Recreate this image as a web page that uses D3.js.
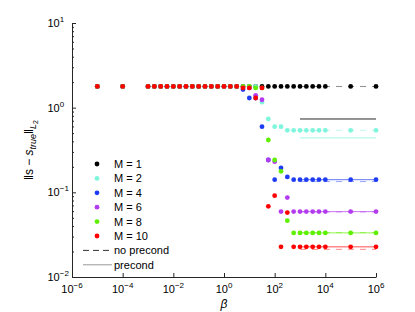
<!DOCTYPE html>
<html>
<head>
	<style>
	body {
		margin: 0;
	}
	svg {
		font-family: "Liberation Sans", Arial, sans-serif;
	}
	</style>
</head>
<body>
	<script src="https://d3js.org/d3.v7.min.js"></script>
	<script>
	// beta grid, as exponents of ten
	var logBeta = [-5, -4, -3, -2.75, -2.5, -2.25, -2, -1.75, -1.5, -1.25, -1, -0.75, -0.5, -0.25,
		0, 0.25, 0.5, 0.75, 1, 1.25, 1.5, 1.75, 2, 2.25, 2.5, 2.75, 3, 3.25, 3.5, 3.75, 4, 5, 6];

	var labels = ["M = 1", "M = 2", "M = 4", "M = 6", "M = 8", "M = 10"];
	var colors = ["#000000", "#7ff5dc", "#1f3cf5", "#b43cf0", "#5ef000", "#ff0000"];

	var errM1 = [1.78, 1.78, 1.78, 1.78, 1.78, 1.78, 1.78, 1.78, 1.78, 1.78, 1.78, 1.78, 1.78, 1.78,
		1.78, 1.78, 1.78, 1.78, 1.78, 1.78, 1.78, 1.78, 1.78, 1.78, 1.78, 1.78, 1.78, 1.78, 1.78, 1.78, 1.78, 1.78, 1.78];
	var errM2 = [1.78, 1.78, 1.78, 1.78, 1.78, 1.78, 1.78, 1.78, 1.78, 1.78, 1.78, 1.78, 1.78, 1.78,
		1.78, 1.78, 1.78, 1.78, 1.78, 1.78, 1.16, 0.735, 0.597, 0.597, 0.54, 0.54, 0.54, 0.54, 0.54, 0.54, 0.54, 0.54, 0.54];
	var errM4 = [1.78, 1.78, 1.78, 1.78, 1.78, 1.78, 1.78, 1.78, 1.78, 1.78, 1.78, 1.78, 1.78, 1.78,
		1.78, 1.78, 1.78, 1.64, 1.30, 1.30, 0.597, 0.241, 0.141, 0.194, 0.152, 0.141, 0.141, 0.141, 0.141, 0.141, 0.141, 0.141, 0.141];
	var errM6 = [1.78, 1.78, 1.78, 1.78, 1.78, 1.78, 1.78, 1.78, 1.78, 1.78, 1.78, 1.78, 1.78, 1.78,
		1.78, 1.78, 1.78, 1.78, 1.71, 1.40, 1.24, 0.241, 0.230, 0.0592, 0.0866, 0.0592, 0.0592, 0.0592, 0.0592, 0.0592, 0.0592, 0.0592, 0.0592];
	var errM8 = [1.78, 1.78, 1.78, 1.78, 1.78, 1.78, 1.78, 1.78, 1.78, 1.78, 1.78, 1.78, 1.78, 1.78,
		1.78, 1.78, 1.78, 1.78, 1.78, 1.71, 1.71, 0.415, 0.241, 0.177, 0.0463, 0.0332, 0.0332, 0.0332, 0.0332, 0.0332, 0.0332, 0.0332, 0.0332];
	var errM10 = [1.78, 1.78, 1.78, 1.78, 1.78, 1.78, 1.78, 1.78, 1.78, 1.78, 1.78, 1.78, 1.78, 1.78,
		1.78, 1.78, 1.78, 1.71, 1.71, 1.30, 1.71, 0.0684, 0.0914, 0.0227, 0.0576, 0.0227, 0.0227, 0.0227, 0.0227, 0.0227, 0.0227, 0.0227, 0.0227];

	// reference levels drawn from beta = 1e3 to 1e6
	var lineBeta = [1e3, 1e6];
	var noPrecond = [1.78, 0.54, 0.134, 0.0585, 0.0335, 0.0212];
	var precond = [0.735, 0.44, 0.141, 0.0592, 0.0332, 0.0227];

	var xTicks = [1e-6, 1e-4, 1e-2, 1, 1e2, 1e4, 1e6];
	var xTickExp = ["\u22126", "\u22124", "\u22122", "0", "2", "4", "6"];
	var yTicks = [1e-2, 1e-1, 1, 10];
	var yTickExp = ["\u22122", "\u22121", "0", "1"];

	var series = [errM1, errM2, errM4, errM6, errM8, errM10];

	var width = 415, height = 312;
	var margin = {left: 72, right: 39, top: 23, bottom: 35};

	var svg = d3.select("body").append("svg")
		.attr("width", width)
		.attr("height", height);

	var x = d3.scaleLog()
		.domain([1e-6, 1e6])
		.range([margin.left, width - margin.right]);

	var y = d3.scaleLog()
		.domain([1e-2, 10])
		.range([height - margin.bottom, margin.top]);

	var axisColor = "#262626";

	// minor y ticks
	var minor = [];
	[1e-2, 1e-1, 1].forEach(function(d){
		for (var k = 2; k <= 9; k++) minor.push(d * k);
	});
	svg.append("g")
		.attr("transform", "translate(" + margin.left + ",0)")
		.call(d3.axisLeft(y).tickValues(minor).tickSize(-2).tickSizeOuter(0).tickFormat(""))
		.call(function(g){ g.select(".domain").remove(); })
		.selectAll("line").attr("stroke", axisColor);

	var gy = svg.append("g")
		.attr("transform", "translate(" + margin.left + ",0)")
		.call(d3.axisLeft(y).tickValues(yTicks).tickSize(-4).tickSizeOuter(0).tickFormat(""));

	var gx = svg.append("g")
		.attr("transform", "translate(0," + (height - margin.bottom) + ")")
		.call(d3.axisBottom(x).tickValues(xTicks).tickSize(-4).tickSizeOuter(0).tickFormat(""));

	[gx, gy].forEach(function(g){
		g.select(".domain").attr("stroke", axisColor);
		g.selectAll("line").attr("stroke", axisColor);
	});

	// tick labels with superscripts
	xTicks.forEach(function(d, i){
		var t = svg.append("text")
			.attr("x", x(d))
			.attr("y", height - margin.bottom + 16)
			.attr("text-anchor", "middle")
			.style("font-size", "11px");
		t.append("tspan").text("10");
		t.append("tspan").attr("dy", -5).style("font-size", "8px").text(xTickExp[i]);
	});
	yTicks.forEach(function(d, i){
		var t = svg.append("text")
			.attr("x", 47.5)
			.attr("y", y(d) + 4)
			.style("font-size", "11px");
		t.append("tspan").text("10");
		t.append("tspan").attr("dy", -5).style("font-size", "8px").text(yTickExp[i]);
	});

	// reference lines
	var lines = svg.append("g");
	colors.forEach(function(c, i){
		lines.append("line")
			.attr("x1", x(lineBeta[0])).attr("x2", x(lineBeta[1]))
			.attr("y1", y(noPrecond[i])).attr("y2", y(noPrecond[i]))
			.attr("stroke", c)
			.attr("stroke-opacity", 0.45)
			.attr("stroke-dasharray", "6,6");
		lines.append("line")
			.attr("x1", x(lineBeta[0])).attr("x2", x(lineBeta[1]))
			.attr("y1", y(precond[i])).attr("y2", y(precond[i]))
			.attr("stroke", c)
			.attr("stroke-opacity", i == 0 ? 0.85 : 0.7);
	});

	// points
	series.forEach(function(s, i){
		svg.append("g").selectAll("circle")
			.data(s)
			.enter().append("circle")
				.attr("cx", function(d, j){ return x(Math.pow(10, logBeta[j])); })
				.attr("cy", function(d){ return y(d); })
				.attr("r", 2.4)
				.style("fill", colors[i]);
	});

	// legend
	var lx = 97, ly = 164, step = 14.4;
	labels.forEach(function(l, i){
		svg.append("circle")
			.attr("cx", lx).attr("cy", ly + i * step)
			.attr("r", 2.4)
			.style("fill", colors[i]);
		svg.append("text")
			.attr("x", lx + 17).attr("y", ly + i * step + 4)
			.style("font-size", "11px")
			.text(l);
	});
	var extra = [["no precond", "#333", "6,4"], ["precond", "#999", null]];
	extra.forEach(function(e, k){
		var yy = ly + (6 + k) * step;
		svg.append("line")
			.attr("x1", 83).attr("x2", 112)
			.attr("y1", yy).attr("y2", yy)
			.attr("stroke", e[1])
			.attr("stroke-dasharray", e[2]);
		svg.append("text")
			.attr("x", lx + 17).attr("y", yy + 4)
			.style("font-size", "11px")
			.text(e[0]);
	});

	// axis titles
	svg.append("text")
		.attr("x", x(1))
		.attr("y", height - 4)
		.attr("text-anchor", "middle")
		.style("font-size", "12px")
		.style("font-style", "italic")
		.text("\u03b2");

	var yl = svg.append("text")
		.attr("transform", "translate(33," + ((margin.top + height - margin.bottom) / 2) + ") rotate(-90)")
		.attr("text-anchor", "middle")
		.style("font-size", "12px");
	yl.append("tspan").text("\u2016s \u2212 ");
	yl.append("tspan").style("font-style", "italic").text("s");
	yl.append("tspan").attr("dy", 3).style("font-size", "9px").style("font-style", "italic").text("true");
	yl.append("tspan").attr("dy", -3).text("\u2016");
	yl.append("tspan").attr("dy", 3).style("font-size", "9px").style("font-style", "italic").text("L");
	yl.append("tspan").attr("dy", 2).style("font-size", "7px").text("2");
	</script>
</body>
</html>
